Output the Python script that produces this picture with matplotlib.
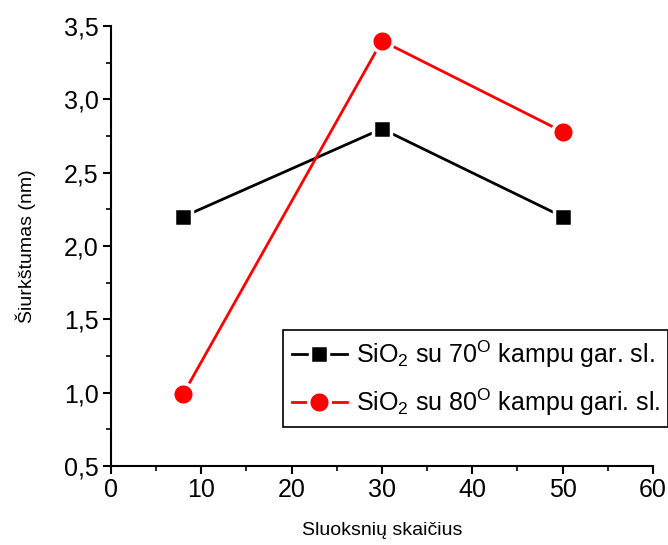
import matplotlib
matplotlib.use("Agg")
import matplotlib.pyplot as plt
from matplotlib.ticker import MultipleLocator, FuncFormatter

plt.rcParams['font.family'] = ['Liberation Sans', 'DejaVu Sans']
plt.rcParams['mathtext.fontset'] = 'custom'
plt.rcParams['mathtext.rm'] = 'Liberation Sans'
plt.rcParams['mathtext.it'] = 'Liberation Sans'

# duomenys
sluoksniai = [8, 30, 50]
siurk_70 = [2.2, 2.8, 2.2]
siurk_80 = [0.99, 3.4, 2.78]
etiketes = [r'SiO$_2$ su 70$^{\mathrm{O}}$ kampu gar. sl.',
            r'SiO$_2$ su 80$^{\mathrm{O}}$ kampu gari. sl.']

fig = plt.figure(figsize=(6.68, 5.45), dpi=100)
ax = fig.add_axes([0.166, 0.145, 0.8115, 0.807])

ax.plot(sluoksniai, siurk_70, color='black', lw=2, marker='s', ms=13.5,
        mfc='black', mec='white', mew=2.5, label=etiketes[0], clip_on=False)
ax.plot(sluoksniai, siurk_80, color='red', lw=2, marker='o', ms=15.5,
        mfc='red', mec='white', mew=2.5, label=etiketes[1], clip_on=False)

ax.set_xlim(0, 60)
ax.set_ylim(0.5, 3.5)
ax.xaxis.set_major_locator(MultipleLocator(10))
ax.xaxis.set_minor_locator(MultipleLocator(5))
ax.yaxis.set_major_locator(MultipleLocator(0.5))
ax.yaxis.set_minor_locator(MultipleLocator(0.25))
ax.yaxis.set_major_formatter(FuncFormatter(lambda v, p: ('%.1f' % v).replace('.', ',')))

for s in ['top', 'right']:
    ax.spines[s].set_visible(False)
for s in ['left', 'bottom']:
    ax.spines[s].set_linewidth(1.5)

ax.tick_params(which='major', direction='out', length=6, width=1.5, labelsize=18, pad=3)
ax.tick_params(which='minor', direction='out', length=3.5, width=1.2)

ax.set_xlabel('Sluoksnių skaičius', fontsize=14, labelpad=14)
ax.set_ylabel('Šiurkštumas (nm)', fontsize=14, labelpad=20)

leg = ax.legend(loc='upper left', bbox_to_anchor=(283 / 668, 1 - 330 / 545),
                bbox_transform=fig.transFigure, fontsize=18, frameon=True,
                fancybox=False, edgecolor='black', framealpha=1,
                handlelength=2.2, handletextpad=0.35, borderpad=0.35,
                labelspacing=0.65, borderaxespad=0)
leg.get_frame().set_linewidth(1.2)

fig.savefig('out.png', dpi=100)
